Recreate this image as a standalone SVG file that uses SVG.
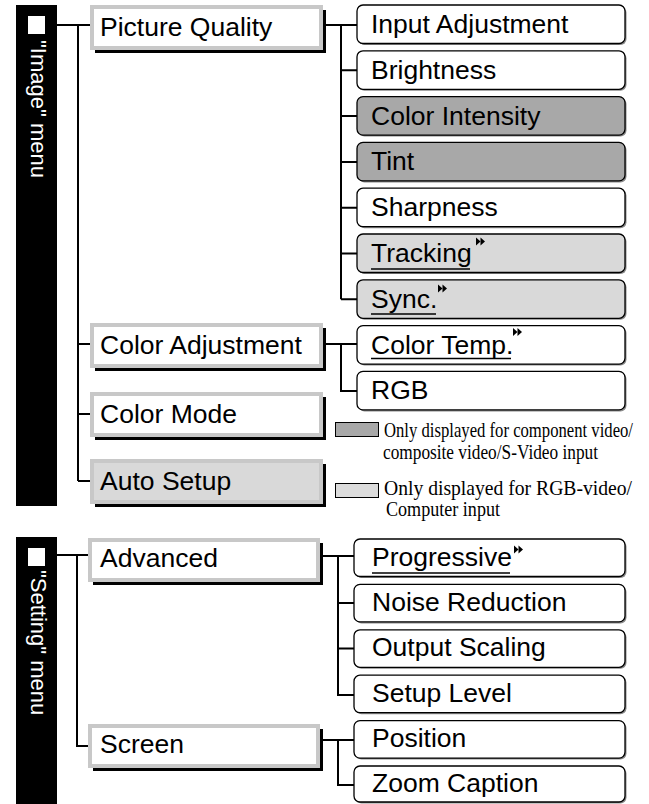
<svg xmlns="http://www.w3.org/2000/svg" width="649" height="804" viewBox="0 0 649 804">
<defs>
<style>
.bar{fill:#000}
.sq{fill:#fff}
.bart{font-family:"Liberation Sans",Arial,sans-serif;font-size:22px;fill:#fff}
.t{font-family:"Liberation Sans",Arial,sans-serif;font-size:26.5px;fill:#000}
.sh{fill:#000}
.lb{stroke:#c8c8c8;stroke-width:4;fill:#fff}
.lbg{stroke:#c8c8c8;stroke-width:4;fill:#d9d9d9}
.cb{stroke:#000;stroke-width:1.3;fill:#fff}
.cbd{stroke:#000;stroke-width:1.3;fill:#a8a8a8}
.cbl{stroke:#000;stroke-width:1.3;fill:#d9d9d9}
.cs{fill:#8a8a8a}
.con{stroke:#000;stroke-width:2;fill:none}
.ul{stroke:#000;stroke-width:1.5}
.leg{font-family:"Liberation Serif","Times New Roman",serif;font-size:17px;fill:#000}
.lgd{fill:#a8a8a8;stroke:#000;stroke-width:1}
.lgl{fill:#dcdcdc;stroke:#000;stroke-width:1}
</style>
<g id="arr"><polygon points="0,0 4.5,4 0,8"/><polygon points="4.5,0 9,4 4.5,8"/></g>
</defs>

<g id="connectors">
<path class="con" d="M57,25H90M78,25V481M78,344H90M78,414H90M78,481H90"/>
<path class="con" d="M326,25H357M341,25V299.3M341,70.3H357M341,116.1H357M341,161.9H357M341,207.7H357M341,253.5H357M341,299.3H357"/>
<path class="con" d="M326,344H357M341,344V391H357"/>
<path class="con" d="M57,555H88M77,555V746H88"/>
<path class="con" d="M323,556H354M338,556V695H354M338,603H354M338,648.5H354"/>
<path class="con" d="M323,740H354M338,740V785H354"/>
</g>

<g id="image-menu">
<rect class="bar" x="16" y="5" width="41" height="501"/>
<rect class="sq" x="28" y="16" width="17" height="18"/>
<text class="bart" transform="translate(31,40) rotate(90)">"Image" menu</text>
</g>

<g id="setting-menu">
<rect class="bar" x="16" y="537" width="41" height="267"/>
<rect class="sq" x="28" y="548" width="17" height="18"/>
<text class="bart" transform="translate(31,570) rotate(90)">"Setting" menu</text>
</g>

<g id="picture-quality">
<rect class="sh" x="95" y="10" width="231" height="43"/>
<rect class="lb" x="92" y="7" width="229" height="41"/>
<text class="t" x="100" y="36">Picture Quality</text>
</g>
<g id="color-adjustment">
<rect class="sh" x="95" y="328" width="231" height="43"/>
<rect class="lb" x="92" y="325" width="229" height="41"/>
<text class="t" x="100" y="354">Color Adjustment</text>
</g>
<g id="color-mode">
<rect class="sh" x="95" y="397" width="231" height="43"/>
<rect class="lb" x="92" y="394" width="229" height="41"/>
<text class="t" x="100" y="423">Color Mode</text>
</g>
<g id="auto-setup">
<rect class="sh" x="95" y="464" width="231" height="43"/>
<rect class="lbg" x="92" y="461" width="229" height="41"/>
<text class="t" x="100" y="490">Auto Setup</text>
</g>

<g id="input-adjustment">
<rect class="cs" x="358.5" y="6.5" width="268" height="38.5" rx="6"/>
<rect class="cb" x="357" y="5" width="268" height="38.5" rx="6"/>
<text class="t" x="371" y="33">Input Adjustment</text>
</g>
<g id="brightness">
<rect class="cs" x="358.5" y="52.3" width="268" height="38.5" rx="6"/>
<rect class="cb" x="357" y="50.8" width="268" height="38.5" rx="6"/>
<text class="t" x="371" y="78.8">Brightness</text>
</g>
<g id="color-intensity">
<rect class="cs" x="358.5" y="98.1" width="268" height="38.5" rx="6"/>
<rect class="cbd" x="357" y="96.6" width="268" height="38.5" rx="6"/>
<text class="t" x="371" y="124.6">Color Intensity</text>
</g>
<g id="tint">
<rect class="cs" x="358.5" y="143.9" width="268" height="38.5" rx="6"/>
<rect class="cbd" x="357" y="142.4" width="268" height="38.5" rx="6"/>
<text class="t" x="371" y="170.4">Tint</text>
</g>
<g id="sharpness">
<rect class="cs" x="358.5" y="189.7" width="268" height="38.5" rx="6"/>
<rect class="cb" x="357" y="188.2" width="268" height="38.5" rx="6"/>
<text class="t" x="371" y="216.2">Sharpness</text>
</g>
<g id="tracking">
<rect class="cs" x="358.5" y="235.5" width="268" height="38.5" rx="6"/>
<rect class="cbl" x="357" y="234" width="268" height="38.5" rx="6"/>
<text class="t" x="371" y="262">Tracking</text>
<line class="ul" x1="371" y1="269" x2="470" y2="269"/>
<use href="#arr" x="476" y="237.5"/>
</g>
<g id="sync">
<rect class="cs" x="358.5" y="281.3" width="268" height="38.5" rx="6"/>
<rect class="cbl" x="357" y="279.8" width="268" height="38.5" rx="6"/>
<text class="t" x="371" y="307.8">Sync.</text>
<line class="ul" x1="371" y1="314" x2="436" y2="314"/>
<use href="#arr" x="438" y="284.5"/>
</g>
<g id="color-temp">
<rect class="cs" x="358.5" y="327.1" width="268" height="38.5" rx="6"/>
<rect class="cb" x="357" y="325.6" width="268" height="38.5" rx="6"/>
<text class="t" x="371" y="353.6">Color Temp.</text>
<line class="ul" x1="371" y1="358.5" x2="511" y2="358.5"/>
<use href="#arr" x="513" y="328"/>
</g>
<g id="rgb">
<rect class="cs" x="358.5" y="372.9" width="268" height="38.5" rx="6"/>
<rect class="cb" x="357" y="371.4" width="268" height="38.5" rx="6"/>
<text class="t" x="371" y="399.4">RGB</text>
</g>

<g id="legend">
<rect class="lgd" x="335.5" y="422.5" width="43" height="14"/>
<rect class="lgl" x="335.5" y="483.5" width="43" height="14"/>
<g transform="scale(1,1.2)">
<text class="leg" x="384" y="364.2" textLength="249" lengthAdjust="spacingAndGlyphs">Only displayed for component video/</text>
<text class="leg" x="383" y="382.5" textLength="215" lengthAdjust="spacingAndGlyphs">composite video/S-Video input</text>
<text class="leg" x="384" y="412.5" textLength="248" lengthAdjust="spacingAndGlyphs">Only displayed for RGB-video/</text>
<text class="leg" x="386" y="430" textLength="114" lengthAdjust="spacingAndGlyphs">Computer input</text>
</g>
</g>

<g id="advanced">
<rect class="sh" x="93" y="543" width="230" height="42"/>
<rect class="lb" x="90" y="540" width="228" height="40"/>
<text class="t" x="100" y="567">Advanced</text>
</g>
<g id="screen">
<rect class="sh" x="93" y="729" width="230" height="42"/>
<rect class="lb" x="90" y="726" width="228" height="40"/>
<text class="t" x="100" y="753">Screen</text>
</g>

<g id="progressive">
<rect class="cs" x="355.5" y="540.5" width="271" height="37.5" rx="6"/>
<rect class="cb" x="354" y="539" width="271" height="37.5" rx="6"/>
<text class="t" x="372" y="565.5">Progressive</text>
<line class="ul" x1="372" y1="573" x2="510" y2="573"/>
<use href="#arr" x="514" y="545.5"/>
</g>
<g id="noise-reduction">
<rect class="cs" x="355.5" y="585.9" width="271" height="37.5" rx="6"/>
<rect class="cb" x="354" y="584.4" width="271" height="37.5" rx="6"/>
<text class="t" x="372" y="610.9">Noise Reduction</text>
</g>
<g id="output-scaling">
<rect class="cs" x="355.5" y="631.3" width="271" height="37.5" rx="6"/>
<rect class="cb" x="354" y="629.8" width="271" height="37.5" rx="6"/>
<text class="t" x="372" y="656.3">Output Scaling</text>
</g>
<g id="setup-level">
<rect class="cs" x="355.5" y="676.7" width="271" height="37.5" rx="6"/>
<rect class="cb" x="354" y="675.2" width="271" height="37.5" rx="6"/>
<text class="t" x="372" y="701.7">Setup Level</text>
</g>
<g id="position">
<rect class="cs" x="355.5" y="722.1" width="271" height="37.5" rx="6"/>
<rect class="cb" x="354" y="720.6" width="271" height="37.5" rx="6"/>
<text class="t" x="372" y="747.1">Position</text>
</g>
<g id="zoom-caption">
<rect class="cs" x="355.5" y="767.5" width="271" height="36" rx="6"/>
<rect class="cb" x="354" y="766" width="271" height="36" rx="6"/>
<text class="t" x="372" y="792">Zoom Caption</text>
</g>
</svg>
